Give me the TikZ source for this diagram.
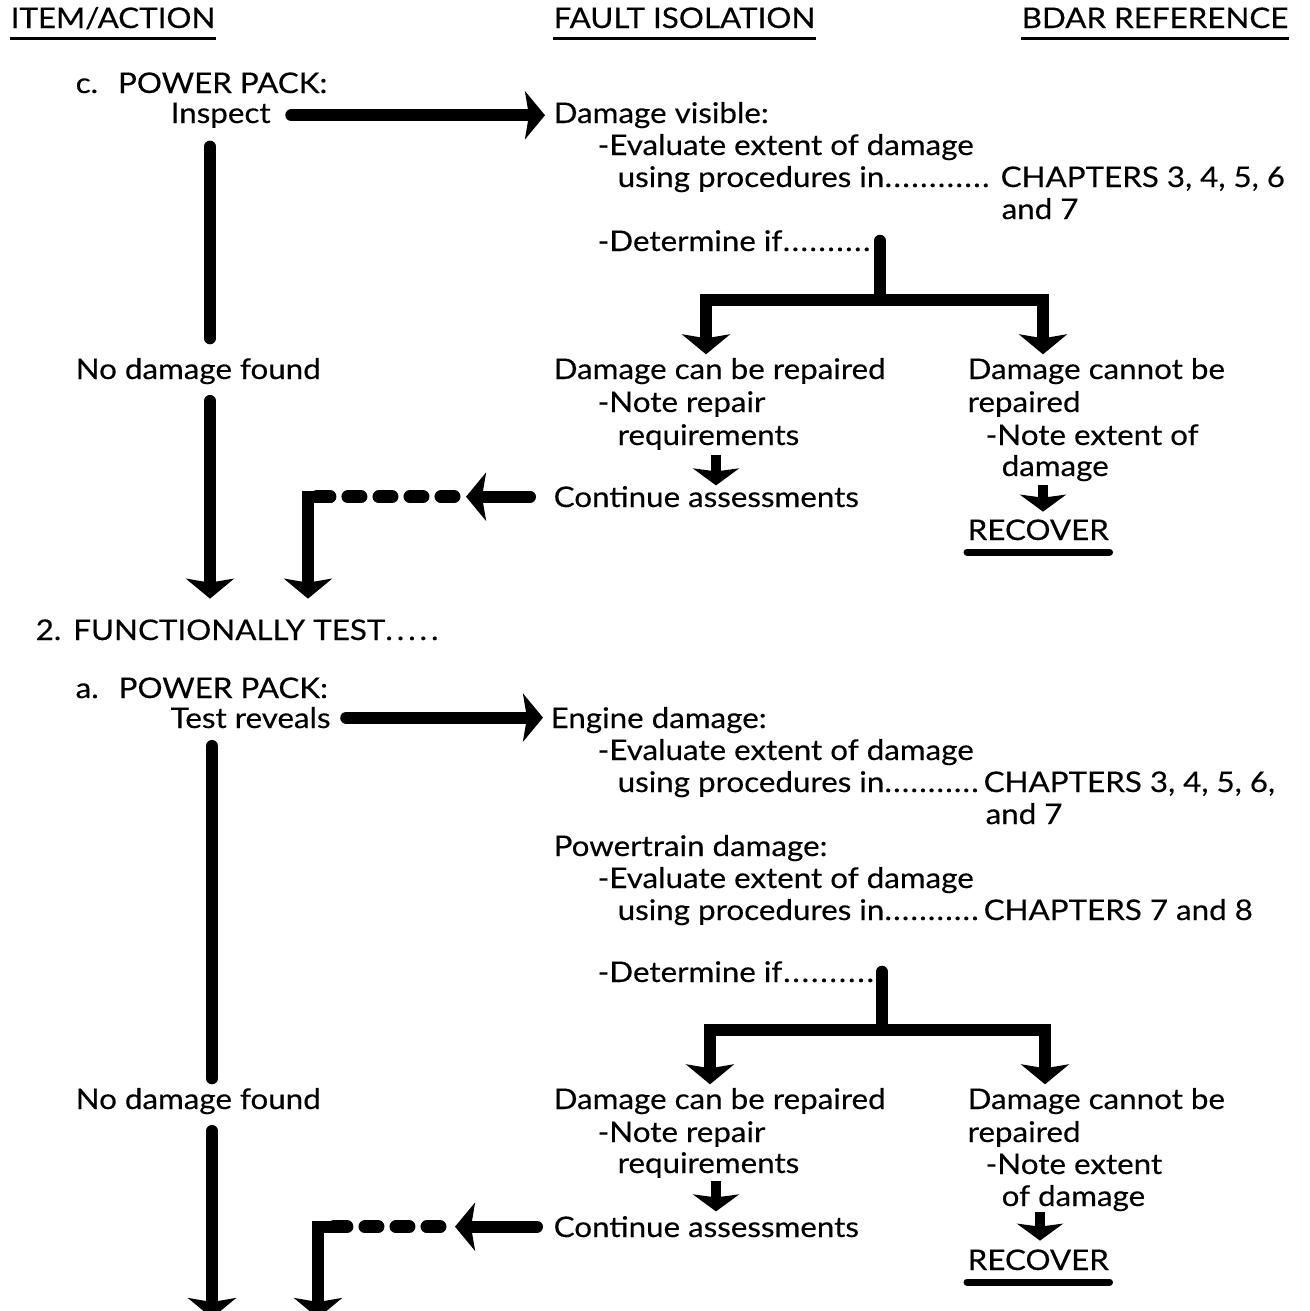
\documentclass[tikz,border=0pt]{standalone}
\usepackage{fontspec}
\setmainfont{Lato}[FakeStretch=1.1, FakeBold=0.3]
\usetikzlibrary{positioning, arrows.meta}
\newcommand{\leaderdots}{\xleaders\hbox to 0.085cm{.\hss}\hfill}

\begin{document}
\begin{tikzpicture}
    [
        x=0.01cm, y=-0.01cm,
        txt/.style={anchor=base west, inner sep=0pt, font=\fontsize{8.1}{10}\selectfont},
        head_line/.style={line width=0.03cm},
        rec_line/.style={line width=0.07cm, line cap=round},
        stem_line/.style={line width=0.12cm, line cap=round, line join=miter},
        big_arrow/.style={line width=0.12cm, line cap=round, line join=miter, -{Stealth[length=0.2cm, width=0.48cm, inset=0.04cm]}},
        small_arrow/.style={line width=0.1cm, -{Stealth[length=0.17cm, width=0.46cm, inset=0.03cm]}},
        dash_line/.style={line width=0.13cm, line cap=round, dash pattern=on 0.13cm off 0.18cm},
    ]
        \useasboundingbox (0,0) rectangle (1310,1311);
        % headings
        \node[txt] (item) at (10,28) {ITEM/ACTION} ;
        \node[txt] (fault) at (553,28) {FAULT ISOLATION} ;
        \node[txt] (bdar) at (1021,28) {BDAR REFERENCE} ;
        \draw[head_line] ([yshift=-0.1cm]item.base west) -- ([yshift=-0.1cm]item.base east) ;
        \draw[head_line] ([yshift=-0.1cm]fault.base west) -- ([yshift=-0.1cm]fault.base east) ;
        \draw[head_line] ([yshift=-0.1cm]bdar.base west) -- ([yshift=-0.1cm]bdar.base east) ;

        % c. power pack
        \node[txt] (pp1) at (75,93) {c.\hspace{0.2cm}POWER PACK:} ;
        \node[txt] (inspect) at (170,123) {Inspect} ;
        \node[txt] (visible) at (553,123) {Damage visible:} ;
        \node[txt] (eval1) at (597,155) {-Evaluate extent of damage} ;
        \node[txt] (using1) at (617,187) {\makebox[3.73cm][l]{using procedures in\leaderdots}} ;
        \node[txt] (chap1) at (1000,187) {CHAPTERS 3, 4, 5, 6} ;
        \node[txt] (and1) at (1001,219) {and 7} ;
        \node[txt] (det1) at (597,251) {\makebox[2.74cm][l]{-Determine if\leaderdots}} ;
        \node[txt] (can1) at (553,379) {Damage can be repaired} ;
        \node[txt] (repair1) at (597,412) {-Note repair} ;
        \node[txt] (req1) at (617,445) {requirements} ;
        \node[txt] (cont1) at (553,507) {Continue assessments} ;
        \node[txt] (cannot1) at (967,379) {Damage cannot be} ;
        \node[txt] (rep1) at (967,412) {repaired} ;
        \node[txt] (extent1) at (985,445) {-Note extent of} ;
        \node[txt] (dmg1) at (1001,476) {damage} ;
        \node[txt] (recover1) at (967,540) {RECOVER} ;
        \node[txt] (nodmg1) at (75,379) {No damage found} ;
        \node[txt] (test) at (35,640) {2.\hspace{0.12cm}FUNCTIONALLY TEST\makebox[0.57cm][l]{\xleaders\hbox to 0.114cm{.\hss}\hfill}} ;

        \coordinate (col1) at (210,0) ;
        \coordinate (br1) at (880,300) ;
        \coordinate (brl1) at (706,300) ;
        \coordinate (brr1) at (1043,300) ;
        \coordinate (sa1) at (716,0) ;
        \coordinate (sb1) at (1043,0) ;
        \coordinate (tip1) at (cont1.west -| 466,0) ;
        \coordinate (dash1) at (cont1.west -| 454,0) ;
        \coordinate (corner1) at (cont1.west -| 308,0) ;

        \draw[stem_line, shorten <=0.18cm, shorten >=0.19cm] (inspect.south -| col1) -- (nodmg1.north -| col1) ;
        \draw[big_arrow, shorten <=0.16cm, shorten >=0.2cm] (nodmg1.south -| col1) -- (test.north -| col1) ;
        \draw[big_arrow, shorten <=0.2cm, shorten >=0.08cm] (inspect.east) -- (inspect.east -| visible.west) ;
        \draw[stem_line] (det1.east -| br1) -- (br1) ;
        \draw[big_arrow, shorten >=0.03cm] (br1) -| (can1.north -| brl1) ;
        \draw[big_arrow, shorten >=0.03cm] (br1) -| (cannot1.north -| brr1) ;
        \draw[small_arrow, shorten <=0.04cm] (req1.south -| sa1) -- (cont1.north -| sa1) ;
        \draw[small_arrow, shorten <=0.03cm, shorten >=0.07cm] (dmg1.south -| sb1) -- (recover1.north -| sb1) ;
        \draw[big_arrow, shorten <=0.23cm] (cont1.west) -- (tip1) ;
        \draw[dash_line] (dash1) -- (corner1) ;
        \draw[big_arrow, shorten >=0.2cm] ([xshift=0.22cm]corner1) -- (corner1) -- (test.north -| corner1) ;
        \draw[rec_line] ([yshift=-0.12cm]recover1.base west) -- ([yshift=-0.12cm]recover1.base east) ;

        % a. power pack
        \node[txt] (pp2) at (75,698) {a.\hspace{0.2cm}POWER PACK:} ;
        \node[txt] (reveals) at (170,728) {Test reveals} ;
        \node[txt] (engine) at (550,728) {Engine damage:} ;
        \node[txt] (eval2) at (597,760) {-Evaluate extent of damage} ;
        \node[txt] (using2) at (617,792) {\makebox[3.62cm][l]{using procedures in\leaderdots}} ;
        \node[txt] (chap2) at (983,792) {CHAPTERS 3, 4, 5, 6,} ;
        \node[txt] (and2) at (985,824) {and 7} ;
        \node[txt] (train) at (553,856) {Powertrain damage:} ;
        \node[txt] (eval3) at (597,888) {-Evaluate extent of damage} ;
        \node[txt] (using3) at (617,920) {\makebox[3.62cm][l]{using procedures in\leaderdots}} ;
        \node[txt] (chap3) at (983,920) {CHAPTERS 7 and 8} ;
        \node[txt] (det2) at (597,982) {\makebox[2.78cm][l]{-Determine if\leaderdots}} ;
        \node[txt] (can2) at (553,1109) {Damage can be repaired} ;
        \node[txt] (repair2) at (597,1142) {-Note repair} ;
        \node[txt] (req2) at (617,1173) {requirements} ;
        \node[txt] (cont2) at (553,1237) {Continue assessments} ;
        \node[txt] (cannot2) at (967,1109) {Damage cannot be} ;
        \node[txt] (rep2) at (967,1142) {repaired} ;
        \node[txt] (extent2) at (985,1174) {-Note extent} ;
        \node[txt] (dmg2) at (1001,1206) {of damage} ;
        \node[txt] (recover2) at (967,1270) {RECOVER} ;
        \node[txt] (nodmg2) at (75,1109) {No damage found} ;

        \coordinate (col2) at (212,0) ;
        \coordinate (br2) at (882,1030) ;
        \coordinate (brl2) at (710,1030) ;
        \coordinate (brr2) at (1045,1030) ;
        \coordinate (sa2) at (716,0) ;
        \coordinate (sb2) at (1040,0) ;
        \coordinate (tip2) at (cont2.west -| 455,0) ;
        \coordinate (dash2) at (cont2.west -| 440,0) ;
        \coordinate (corner2) at (cont2.west -| 318,0) ;
        \coordinate (exit1) at (212,1318) ;
        \coordinate (exit2) at (318,1318) ;

        \draw[stem_line, shorten <=0.17cm, shorten >=0.09cm] (reveals.south -| col2) -- (nodmg2.north -| col2) ;
        \draw[big_arrow, shorten <=0.16cm] (nodmg2.south -| col2) -- (exit1) ;
        \draw[big_arrow, shorten <=0.15cm, shorten >=0.07cm] (reveals.east) -- (reveals.east -| engine.west) ;
        \draw[stem_line] (det2.east -| br2) -- (br2) ;
        \draw[big_arrow, shorten >=0.03cm] (br2) -| (can2.north -| brl2) ;
        \draw[big_arrow, shorten >=0.03cm] (br2) -| (cannot2.north -| brr2) ;
        \draw[small_arrow, shorten <=0.02cm, shorten >=0.04cm] (req2.south -| sa2) -- (cont2.north -| sa2) ;
        \draw[small_arrow, shorten >=0.08cm] (dmg2.south -| sb2) -- (recover2.north -| sb2) ;
        \draw[big_arrow, shorten <=0.16cm] (cont2.west) -- (tip2) ;
        \draw[dash_line] (dash2) -- (corner2) ;
        \draw[big_arrow] ([xshift=0.24cm]corner2) -- (corner2) -- (exit2) ;
        \draw[rec_line] ([yshift=-0.12cm]recover2.base west) -- ([yshift=-0.12cm]recover2.base east) ;
    \end{tikzpicture}
\end{document}
